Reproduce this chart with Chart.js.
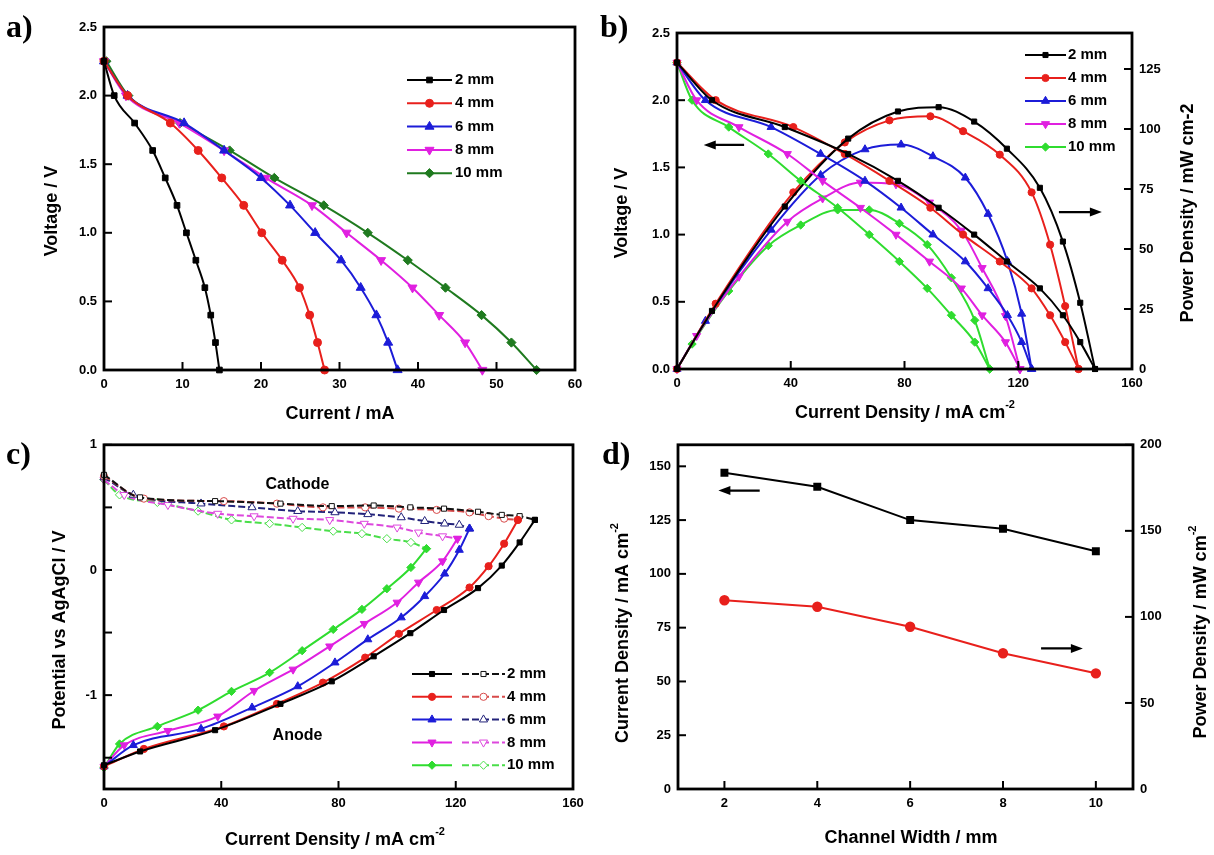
<!DOCTYPE html>
<html>
<head>
<meta charset="utf-8">
<script src="https://cdn.jsdelivr.net/npm/chart.js@4.4.1/dist/chart.umd.min.js"></script>
<style>
  body { margin: 0; background: #fff; width: 1214px; height: 855px; position: relative; overflow: hidden; }
  canvas { position: absolute; }
  .tag { position: absolute; font: bold 32px 'Liberation Serif', 'Times New Roman', serif; line-height: 1; color: #000; }
</style>
</head>
<body>
<canvas id="chartA" width="607" height="430" style="left:0;top:0"></canvas>
<canvas id="chartB" width="607" height="430" style="left:607px;top:0"></canvas>
<canvas id="chartC" width="607" height="425" style="left:0;top:430px"></canvas>
<canvas id="chartD" width="607" height="425" style="left:607px;top:430px"></canvas>
<div class="tag" style="left:6px;top:10px">a)</div>
<div class="tag" style="left:600px;top:10px">b)</div>
<div class="tag" style="left:6px;top:437px">c)</div>
<div class="tag" style="left:602px;top:437px">d)</div>
<script>
var sizes = ['2 mm', '4 mm', '6 mm', '8 mm', '10 mm'];
var colorsA = ['#000000', '#e8201c', '#1c1cd8', '#e020e0', '#1f7a1f'];
var colorsB = ['#000000', '#e8201c', '#1c1cd8', '#e020e0', '#2fdc2f'];
var colorsCathode = ['#111111', '#d84a4a', '#22227a', '#dd48dd', '#4ade4a'];
var markers = ['rect', 'circle', 'triangle', 'triangle', 'rectRot'];
var markerTurn = [0, 0, 0, 180, 0];
var markerScale = [1, 1, 1.3, 1.3, 1.15];

// a) cell voltage against current
var voltA = [2.25, 2.0, 1.8, 1.6, 1.4, 1.2, 1.0, 0.8, 0.6, 0.4, 0.2, 0.0];
var currentA2 = [0, 1.3, 3.9, 6.2, 7.8, 9.3, 10.5, 11.7, 12.85, 13.6, 14.2, 14.7];
var currentA4 = [0, 3.0, 8.45, 12.0, 15.0, 17.8, 20.1, 22.7, 24.9, 26.2, 27.2, 28.1];
var currentA6 = [0, 3.0, 10.2, 15.3, 20.0, 23.7, 26.9, 30.2, 32.7, 34.7, 36.2, 37.4];
var currentA8 = [0, 2.8, 9.6, 15.3, 20.6, 26.5, 30.9, 35.3, 39.3, 42.7, 46.0, 48.2];
var currentA10 = [0.3, 3.1, 9.7, 16.0, 21.7, 28.0, 33.6, 38.7, 43.5, 48.1, 51.9, 55.1];

// b) polarisation and power curves, c) electrode potentials (same current densities)
var voltB = [2.28, 2.0, 1.8, 1.6, 1.4, 1.2, 1.0, 0.8, 0.6, 0.4, 0.2, 0.0];
var density2 = [0, 12.3, 37.9, 60.2, 77.7, 92, 104.5, 116, 127.6, 135.7, 141.8, 147];
var density4 = [0, 13.6, 40.9, 59, 74.7, 89.1, 100.6, 113.5, 124.7, 131.2, 136.5, 141.2];
var density6 = [0, 10, 33.1, 50.5, 66.1, 78.8, 90, 101.4, 109.4, 116.2, 121.2, 124.7];
var density8 = [0, 6.9, 21.8, 38.8, 51.2, 64.5, 77, 88.8, 100, 107.3, 115.5, 120.6];
var density10 = [0, 5.3, 18.2, 32.1, 43.5, 56.5, 67.6, 78.2, 88, 96.5, 104.7, 110];
var power2 = [0, 24.2, 67.7, 96, 107.3, 109.1, 103.1, 91.8, 75.5, 53.1, 27.6, 0];
var power4 = [0, 27.2, 73.6, 94.4, 103.6, 105.3, 99.1, 89.3, 73.6, 51.8, 26.2, 0];
var power6 = [0, 20, 58, 80.8, 91.5, 93.5, 88.6, 79.7, 64.6, 44.9, 23.0, 0];
var power8 = [0, 13.8, 38.5, 61.4, 71.1, 77.7, 77, 69.4, 57.7, 42.1, 22.1, 0];
var power10 = [0, 10.4, 32.5, 51.4, 60, 66.3, 66.3, 60.7, 51.8, 38, 20.3, 0];

var anode2 = [-1.56, -1.45, -1.28, -1.07, -0.89, -0.69, -0.505, -0.32, -0.145, 0.035, 0.22, 0.40];
var anode4 = [-1.57, -1.43, -1.25, -1.07, -0.90, -0.70, -0.51, -0.32, -0.14, 0.03, 0.21, 0.40];
var anode6 = [-1.57, -1.40, -1.27, -1.10, -0.93, -0.74, -0.555, -0.38, -0.21, -0.03, 0.16, 0.33];
var anode8 = [-1.57, -1.40, -1.285, -1.17, -0.965, -0.795, -0.61, -0.43, -0.26, -0.10, 0.07, 0.25];
var anode10 = [-1.58, -1.39, -1.25, -1.12, -0.97, -0.82, -0.645, -0.475, -0.315, -0.15, 0.02, 0.17];
var cathode2 = [0.76, 0.58, 0.55, 0.53, 0.51, 0.515, 0.50, 0.49, 0.465, 0.44, 0.43, 0.40];
var cathode4 = [0.75, 0.57, 0.55, 0.53, 0.50, 0.50, 0.49, 0.48, 0.46, 0.43, 0.41, 0.40];
var cathode6 = [0.74, 0.60, 0.53, 0.50, 0.47, 0.46, 0.445, 0.42, 0.39, 0.37, 0.36, 0.33];
var cathode8 = [0.72, 0.60, 0.52, 0.45, 0.43, 0.41, 0.40, 0.37, 0.34, 0.30, 0.27, 0.25];
var cathode10 = [0.72, 0.60, 0.54, 0.47, 0.40, 0.37, 0.34, 0.31, 0.29, 0.25, 0.22, 0.17];

// d) limiting current and peak power against channel width
var channelWidth = [2, 4, 6, 8, 10];
var limitCurrent = [147, 140.5, 125, 121, 110.5];
var peakPower = [109.7, 105.9, 94.3, 78.9, 67.2];

// tick values
var ticksAx = [0, 10, 20, 30, 40, 50, 60];
var ticksVolt = [0, 0.5, 1.0, 1.5, 2.0, 2.5];
var ticksDensity = [0, 40, 80, 120, 160];
var ticksPowerB = [0, 25, 50, 75, 100, 125];
var ticksPotential = [-1.5, -1, -0.5, 0, 0.5, 1];
var ticksWidth = [2, 4, 6, 8, 10];
var ticksCurrentD = [0, 25, 50, 75, 100, 125, 150];
var ticksPowerD = [0, 50, 100, 150, 200];

var SANS = "'Liberation Sans', Arial, sans-serif";
var NARROW = "'Liberation Sans Narrow', 'Liberation Sans', Arial, sans-serif";

function pairs(xs, ys) {
  return xs.map(function (x, k) { return { x: x, y: ys[k] }; });
}

function series(xs, ys, i, color, r, extra) {
  return Object.assign({
    label: sizes[i],
    data: pairs(xs, ys),
    borderColor: color,
    backgroundColor: color,
    pointBackgroundColor: color,
    pointBorderColor: color,
    pointBorderWidth: 1,
    pointStyle: markers[i],
    pointRotation: markerTurn[i],
    pointRadius: r * markerScale[i],
    borderWidth: 2,
    cubicInterpolationMode: 'monotone',
    clip: false
  }, extra || {});
}

function axis(pos, min, max, ticks, size, fmt) {
  return {
    type: 'linear', position: pos, min: min, max: max,
    grid: { display: false, drawTicks: false },
    border: { display: false },
    afterBuildTicks: function (s) { s.ticks = ticks.map(function (v) { return { value: v }; }); },
    afterFit: function (s) { if (s.isHorizontal()) s.height = size; else s.width = size; },
    ticks: {
      padding: 7, color: '#000', autoSkip: false, maxRotation: 0,
      font: { family: NARROW, weight: 'bold', size: 13 },
      callback: fmt || function (v) { return String(v); }
    }
  };
}

function oneDecimal(v) { return v.toFixed(1); }

function drawTitle(ctx, parts, x, y, angle, size) {
  var big = 'bold ' + size + 'px ' + SANS;
  var small = 'bold ' + Math.round(size * 0.6) + 'px ' + SANS;
  ctx.save();
  ctx.translate(x, y);
  ctx.rotate(angle);
  ctx.fillStyle = '#000';
  ctx.textBaseline = 'middle';
  ctx.textAlign = 'left';
  var total = 0;
  parts.forEach(function (p) { ctx.font = p[1] ? small : big; total += ctx.measureText(p[0]).width; });
  var cx = -total / 2;
  parts.forEach(function (p) {
    ctx.font = p[1] ? small : big;
    ctx.fillText(p[0], cx, p[1] ? -size * 0.42 : 0);
    cx += ctx.measureText(p[0]).width;
  });
  ctx.restore();
}

function marker(ctx, ds, x, y) {
  ctx.save();
  ctx.fillStyle = ds.pointBackgroundColor;
  ctx.strokeStyle = ds.pointBorderColor;
  ctx.lineWidth = ds.pointBorderWidth;
  Chart.helpers.drawPoint(ctx, {
    pointStyle: ds.pointStyle, rotation: ds.pointRotation,
    radius: ds.pointRadius, borderWidth: ds.pointBorderWidth
  }, x, y);
  ctx.restore();
}

function sample(ctx, ds, x0, x1, y) {
  ctx.save();
  ctx.strokeStyle = ds.borderColor;
  ctx.lineWidth = ds.borderWidth;
  ctx.setLineDash(ds.borderDash || []);
  ctx.beginPath();
  ctx.moveTo(x0, y);
  ctx.lineTo(x1, y);
  ctx.stroke();
  ctx.restore();
  marker(ctx, ds, (x0 + x1) / 2, y);
}

function arrow(ctx, x0, x1, y) {
  var dir = x1 > x0 ? 1 : -1;
  ctx.save();
  ctx.strokeStyle = '#000';
  ctx.fillStyle = '#000';
  ctx.lineWidth = 2.2;
  ctx.beginPath();
  ctx.moveTo(x0, y);
  ctx.lineTo(x1 - dir * 8, y);
  ctx.stroke();
  ctx.beginPath();
  ctx.moveTo(x1, y);
  ctx.lineTo(x1 - dir * 12, y - 4.5);
  ctx.lineTo(x1 - dir * 12, y + 4.5);
  ctx.closePath();
  ctx.fill();
  ctx.restore();
}

// frame, inward ticks, titles, legend and arrows
function decor(cfg) {
  return {
    id: 'decor',
    afterDraw: function (chart) {
      var ctx = chart.ctx, a = chart.chartArea;
      ctx.save();
      ctx.strokeStyle = '#000';
      ctx.lineWidth = 2;
      Object.keys(chart.scales).forEach(function (id) {
        var s = chart.scales[id];
        s.ticks.forEach(function (t) {
          var p = s.getPixelForValue(t.value);
          ctx.beginPath();
          if (s.position === 'bottom') { ctx.moveTo(p, a.bottom); ctx.lineTo(p, a.bottom - 8); }
          else if (s.position === 'left') { ctx.moveTo(a.left, p); ctx.lineTo(a.left + 8, p); }
          else { ctx.moveTo(a.right, p); ctx.lineTo(a.right - 8, p); }
          ctx.stroke();
        });
      });
      ctx.lineWidth = 2.8;
      ctx.strokeRect(a.left, a.top, a.right - a.left, a.bottom - a.top);
      ctx.restore();

      (cfg.titles || []).forEach(function (t) { drawTitle(ctx, t.parts, t.x, t.y, t.angle || 0, t.size || 18); });

      if (cfg.legend) {
        var L = cfg.legend;
        L.sets.forEach(function (set, r) {
          var y = L.y + r * L.dy;
          set.forEach(function (di, j) {
            var ds = chart.data.datasets[di];
            sample(ctx, ds, L.spans[j][0], L.spans[j][1], y);
          });
          ctx.save();
          ctx.font = 'bold 15px ' + SANS;
          ctx.fillStyle = '#000';
          ctx.textBaseline = 'middle';
          ctx.fillText(chart.data.datasets[set[0]].label, L.textX, y);
          ctx.restore();
        });
      }

      (cfg.arrows || []).forEach(function (ar) {
        var xs = chart.scales.x, ys = chart.scales[ar.axis];
        arrow(ctx, xs.getPixelForValue(ar.from), xs.getPixelForValue(ar.to), ys.getPixelForValue(ar.y));
      });

      (cfg.notes || []).forEach(function (n) {
        ctx.save();
        ctx.font = 'bold 16px ' + SANS;
        ctx.fillStyle = '#000';
        ctx.textAlign = 'center';
        ctx.textBaseline = 'middle';
        ctx.fillText(n.text, chart.scales.x.getPixelForValue(n.x), chart.scales.y.getPixelForValue(n.y));
        ctx.restore();
      });
    }
  };
}

Chart.defaults.animation = false;
Chart.defaults.responsive = false;
Chart.defaults.devicePixelRatio = 1;
Chart.defaults.events = [];
Chart.defaults.plugins.legend.display = false;
Chart.defaults.plugins.tooltip.enabled = false;

var densities = [density2, density4, density6, density8, density10];
var powers = [power2, power4, power6, power8, power10];
var anodes = [anode2, anode4, anode6, anode8, anode10];
var cathodes = [cathode2, cathode4, cathode6, cathode8, cathode10];
var currentsA = [currentA2, currentA4, currentA6, currentA8, currentA10];

// a)
new Chart(document.getElementById('chartA'), {
  type: 'line',
  data: { datasets: currentsA.map(function (xs, i) { return series(xs, voltA, i, colorsA[i], 4); }) },
  options: {
    layout: { padding: { left: 0, top: 27, right: 32, bottom: 0 } },
    scales: {
      x: axis('bottom', 0, 60, ticksAx, 60),
      y: axis('left', 0, 2.5, ticksVolt, 104, oneDecimal)
    }
  },
  plugins: [decor({
    titles: [
      { parts: [['Current / mA']], x: 340, y: 414 },
      { parts: [['Voltage / V']], x: 52, y: 211, angle: -Math.PI / 2 }
    ],
    legend: { sets: [[0], [1], [2], [3], [4]], spans: [[407, 452]], textX: 455, y: 80, dy: 23.3 }
  })]
});

// b)
var setsB = densities.map(function (xs, i) { return series(xs, voltB, i, colorsB[i], 3.6, { yAxisID: 'y' }); })
  .concat(densities.map(function (xs, i) { return series(xs, powers[i], i, colorsB[i], 3.6, { yAxisID: 'p' }); }));
new Chart(document.getElementById('chartB'), {
  type: 'line',
  data: { datasets: setsB },
  options: {
    layout: { padding: { left: 0, top: 33, right: 0, bottom: 0 } },
    scales: {
      x: axis('bottom', 0, 160, ticksDensity, 61),
      y: axis('left', 0, 2.5, ticksVolt, 70, oneDecimal),
      p: axis('right', 0, 140, ticksPowerB, 82)
    }
  },
  plugins: [decor({
    titles: [
      { parts: [['Current Density / mA cm'], ['-2', true]], x: 298, y: 413 },
      { parts: [['Voltage / V']], x: 15, y: 213, angle: -Math.PI / 2 },
      { parts: [['Power Density / mW cm-2']], x: 581, y: 213, angle: -Math.PI / 2 }
    ],
    legend: { sets: [[0], [1], [2], [3], [4]], spans: [[418, 459]], textX: 461, y: 55, dy: 23 },
    arrows: [
      { from: 23.6, to: 9.4, y: 1.667, axis: 'y' },
      { from: 134.3, to: 149.4, y: 65.4, axis: 'p' }
    ]
  })]
});

// c)
var setsC = densities.map(function (xs, i) { return series(xs, anodes[i], i, colorsB[i], 3.6); })
  .concat(densities.map(function (xs, i) {
    return series(xs, cathodes[i], i, colorsCathode[i], 3.6, {
      pointBackgroundColor: '#ffffff', borderDash: [7, 3]
    });
  }));
new Chart(document.getElementById('chartC'), {
  type: 'line',
  data: { datasets: setsC },
  options: {
    layout: { padding: { left: 0, top: 14, right: 34, bottom: 0 } },
    scales: {
      x: axis('bottom', 0, 160, ticksDensity, 66),
      y: axis('left', -1.75, 1.0, ticksPotential, 104, function (v) { return Number.isInteger(v) ? String(v) : ''; })
    }
  },
  plugins: [decor({
    titles: [
      { parts: [['Current Density / mA cm'], ['-2', true]], x: 335, y: 410 },
      { parts: [['Potential vs AgAgCl / V']], x: 60, y: 200, angle: -Math.PI / 2 }
    ],
    legend: { sets: [[0, 5], [1, 6], [2, 7], [3, 8], [4, 9]], spans: [[412, 452], [462, 505]], textX: 507, y: 244, dy: 22.8 },
    notes: [
      { text: 'Cathode', x: 66, y: 0.68 },
      { text: 'Anode', x: 66, y: -1.32 }
    ]
  })]
});

// d)
new Chart(document.getElementById('chartD'), {
  type: 'line',
  data: {
    datasets: [
      {
        label: 'Current Density', data: pairs(channelWidth, limitCurrent), yAxisID: 'y',
        borderColor: '#000', backgroundColor: '#000', pointBackgroundColor: '#000', pointBorderColor: '#000',
        pointStyle: 'rect', pointRadius: 4.2, borderWidth: 2, tension: 0, clip: false
      },
      {
        label: 'Power Density', data: pairs(channelWidth, peakPower), yAxisID: 'p',
        borderColor: '#e8201c', backgroundColor: '#e8201c', pointBackgroundColor: '#e8201c', pointBorderColor: '#e8201c',
        pointStyle: 'circle', pointRadius: 4.2, borderWidth: 2, tension: 0, clip: false
      }
    ]
  },
  options: {
    layout: { padding: { left: 0, top: 13, right: 0, bottom: 0 } },
    scales: {
      x: axis('bottom', 1, 10.8, ticksWidth, 66),
      y: axis('left', 0, 160, ticksCurrentD, 71),
      p: axis('right', 0, 200, ticksPowerD, 81)
    }
  },
  plugins: [decor({
    titles: [
      { parts: [['Channel Width / mm']], x: 304, y: 408 },
      { parts: [['Current Density / mA cm'], ['-2', true]], x: 16, y: 203, angle: -Math.PI / 2 },
      { parts: [['Power Density / mW cm'], ['-2', true]], x: 594, y: 202, angle: -Math.PI / 2 }
    ],
    arrows: [
      { from: 2.76, to: 1.87, y: 138.7, axis: 'y' },
      { from: 8.82, to: 9.72, y: 81.7, axis: 'p' }
    ]
  })]
});
</script>
</body>
</html>
